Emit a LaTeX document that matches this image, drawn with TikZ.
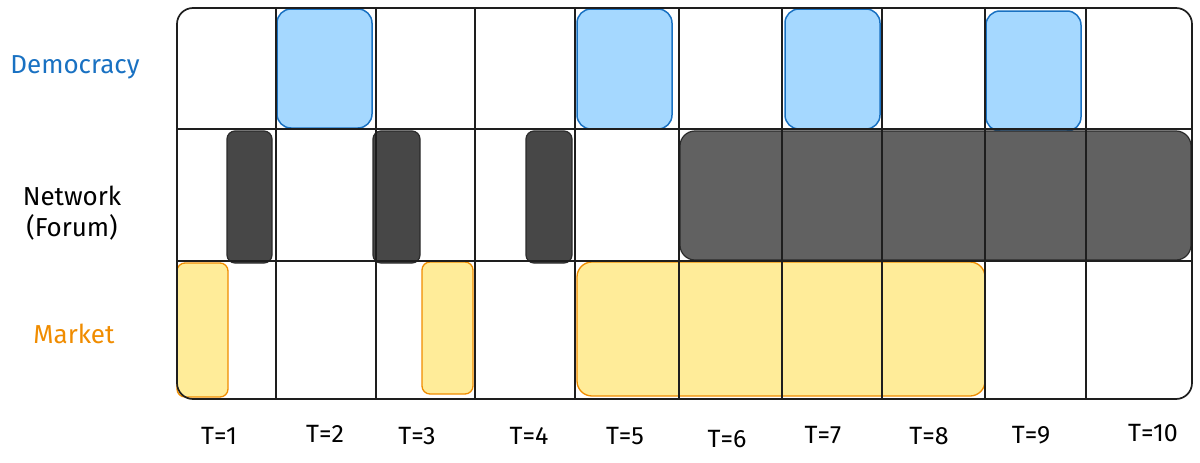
\documentclass[tikz,border=0pt]{standalone}
\usepackage{fontspec}
\setmainfont{Fira Sans}
\usetikzlibrary{positioning}

\definecolor{gridline}{HTML}{1E1E1E}
\definecolor{demoline}{HTML}{1971C2}
\definecolor{demofill}{HTML}{A5D8FF}
\definecolor{netline}{HTML}{2B2B2B}
\definecolor{netfill}{HTML}{474747}
\definecolor{netwide}{HTML}{616161}
\definecolor{mktline}{HTML}{F08C00}
\definecolor{mktfill}{HTML}{FFEC99}

\begin{document}
\begin{tikzpicture}[
     x=1pt,y=-1pt,
     grid/.style={draw=gridline,line width=1.7pt},
     demo/.style={draw=demoline,fill=demofill,line width=1.5pt,rounded corners=14pt},
     net/.style={draw=netline,fill=netfill,line width=1.2pt,rounded corners=8pt},
     netbig/.style={net,fill=netwide,rounded corners=15pt},
     mkt/.style={draw=mktline,fill=mktfill,line width=1.3pt,rounded corners=8pt},
     row/.style={font=\fontsize{26}{31}\selectfont,align=center},
     tick/.style={font=\fontsize{25}{30}\selectfont}]

    \useasboundingbox (0,0) rectangle (1200,463);

    % row labels
    \node[row,text=demoline] (democracy) at (75,67) {Democracy};
    \node[row,text=black] (network) at (72,213) {Network\\(Forum)};
    \node[row,text=mktline] (market) at (74,334) {Market};

    % democracy row
    \draw[demo] (277,9) rectangle (372,128);
    \draw[demo] (577,9) rectangle (672,129);
    \draw[demo] (785,9) rectangle (880,129);
    \draw[demo] (986,11) rectangle (1081,131);

    % network row
    \draw[net] (227,131) rectangle (272,263);
    \draw[net] (373,131) rectangle (420,263);
    \draw[net] (526,131) rectangle (572,263);
    \draw[netbig] (680,131) rectangle (1191,260);

    % market row
    \draw[mkt] (177,263) rectangle (228,397);
    \draw[mkt] (422,262) rectangle (473,394);
    \draw[mkt,rounded corners=15pt] (577,262) rectangle (985,396);

    % grid
    \draw[grid,rounded corners=16pt] (177,8) rectangle (1192,399);
    \draw[grid] (177,129) -- (1192,129)
                (177,261) -- (1192,261);
    \draw[grid] (276,8) -- (276,399)
                (376,8) -- (376,399)
                (475,8) -- (475,399)
                (575,8) -- (575,399)
                (679,8) -- (679,399)
                (782,8) -- (782,399)
                (882,8) -- (882,399)
                (985,8) -- (985,399)
                (1086,8) -- (1086,399);

    % time steps
    \node[tick] (t1) at (219,436) {T=1};
    \node[tick] (t2) at (325,434) {T=2};
    \node[tick] (t3) at (417,436) {T=3};
    \node[tick] (t4) at (529,436) {T=4};
    \node[tick] (t5) at (625,436) {T=5};
    \node[tick] (t6) at (727,439) {T=6};
    \node[tick] (t7) at (823,435) {T=7};
    \node[tick] (t8) at (929,436) {T=8};
    \node[tick] (t9) at (1031,435) {T=9};
    \node[tick] (t10) at (1153,433) {T=10};

\end{tikzpicture}
\end{document}
